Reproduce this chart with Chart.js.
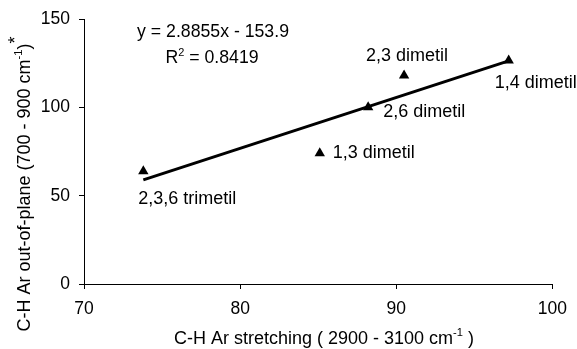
<!DOCTYPE html>
<html>
<head>
<meta charset="utf-8">
<script src="https://cdn.jsdelivr.net/npm/chart.js@4.4.0/dist/chart.umd.min.js"></script>
<style>
  html, body { margin: 0; padding: 0; background: #fff; }
  #wrap { width: 577px; height: 349px; }
</style>
</head>
<body>
<div id="wrap"><canvas id="chart"></canvas></div>
<script>
// values
var names = ['2,3,6 trimetil', '1,3 dimetil', '2,6 dimetil', '2,3 dimetil', '1,4 dimetil'];
var stretching = [73.8, 85.1, 88.2, 90.5, 97.2];
var outOfPlane = [64.0, 74.2, 100.3, 118.2, 126.7];
var xTicks = [70, 80, 90, 100];
var yTicks = [0, 50, 100, 150];
var slope = 2.8855;
var intercept = -153.9;
var rSquared = '0.8419';

var font = 'Liberation Sans, Arial, sans-serif';

// where each label sits relative to its marker (px)
var labelOffsets = [[-5, 28], [13, 0], [15, 5], [-38, -20], [-14, 22]];

var points = stretching.map(function(x, i) { return { x: x, y: outOfPlane[i] }; });
var xMin = Math.min.apply(null, stretching);
var xMax = Math.max.apply(null, stretching);
var trend = [
  { x: xMin, y: slope * xMin + intercept },
  { x: xMax, y: slope * xMax + intercept }
];

// draws a run of text pieces, some raised as superscript
function drawParts(ctx, parts, x, y, size, align) {
  var total = 0;
  parts.forEach(function(p) {
    p.s = p.sup ? size * (p.scale || 0.62) : size;
    ctx.font = p.s + 'px ' + font;
    p.w = ctx.measureText(p.t).width;
    total += p.w;
  });
  var cx = align === 'center' ? x - total / 2 : x;
  parts.forEach(function(p) {
    ctx.font = p.s + 'px ' + font;
    ctx.fillText(p.t, cx, p.sup ? y - size * (p.rise || 0.42) : y);
    cx += p.w;
  });
}

var textPlugin = {
  id: 'texts',
  afterDraw: function(chart) {
    var ctx = chart.ctx;
    var xs = chart.scales.x, ys = chart.scales.y;
    ctx.save();
    ctx.fillStyle = '#000';
    ctx.textAlign = 'left';

    // point labels
    ctx.font = '18px ' + font;
    ctx.textBaseline = 'middle';
    names.forEach(function(n, i) {
      var px = xs.getPixelForValue(stretching[i]);
      var py = ys.getPixelForValue(outOfPlane[i]);
      ctx.fillText(n, px + labelOffsets[i][0], py + labelOffsets[i][1]);
    });

    // regression equation
    ctx.textBaseline = 'alphabetic';
    drawParts(ctx, [{ t: 'y = ' + slope + 'x - ' + Math.abs(intercept) }], 213, 37, 17.7, 'center');
    drawParts(ctx, [{ t: 'R' }, { t: '2', sup: true }, { t: ' = ' + rSquared }], 212, 63, 17.7, 'center');

    // x axis title
    drawParts(ctx, [
      { t: 'C-H Ar stretching ( 2900 - 3100 cm' },
      { t: '-1', sup: true },
      { t: ' )' }
    ], 324, 344, 18, 'center');

    // y axis title
    ctx.translate(30, 184);
    ctx.rotate(-Math.PI / 2);
    drawParts(ctx, [
      { t: 'C-H Ar out-of-plane (700 - 900 cm' },
      { t: '-1', sup: true },
      { t: ')' },
      { t: '*', sup: true, scale: 1.0, rise: 0.5 }
    ], 0, 0, 18, 'center');
    ctx.restore();
  }
};

var ctx = document.getElementById('chart').getContext('2d');
var chart = new Chart(ctx, {
  type: 'scatter',
  data: {
    datasets: [
      {
        type: 'line',
        data: trend,
        borderColor: '#000',
        borderWidth: 3,
        pointRadius: 0,
        fill: false
      },
      {
        data: points,
        pointStyle: 'triangle',
        pointRadius: 6,
        backgroundColor: '#000',
        borderColor: '#000',
        borderWidth: 0
      }
    ]
  },
  options: {
    responsive: true,
    maintainAspectRatio: false,
    animation: false,
    layout: { padding: { left: 0, top: 19, right: 24, bottom: 0 } },
    plugins: {
      legend: { display: false },
      tooltip: { enabled: false }
    },
    scales: {
      x: {
        type: 'linear',
        min: 70,
        max: 100,
        afterBuildTicks: function(s) { s.ticks = xTicks.map(function(v) { return { value: v }; }); },
        afterFit: function(s) { s.height = 65; },
        grid: { drawOnChartArea: false, drawTicks: true, tickLength: 5, color: '#000' },
        border: { display: true, color: '#000', width: 1 },
        ticks: { color: '#000', padding: 10, maxRotation: 0, font: { family: font, size: 17.5 } }
      },
      y: {
        type: 'linear',
        min: 0,
        max: 150,
        afterBuildTicks: function(s) { s.ticks = yTicks.map(function(v) { return { value: v }; }); },
        afterFit: function(s) { s.width = 84; },
        grid: { drawOnChartArea: false, drawTicks: true, tickLength: 5, color: '#000' },
        border: { display: true, color: '#000', width: 1 },
        ticks: { color: '#000', padding: 9, font: { family: font, size: 17.5 } }
      }
    }
  },
  plugins: [textPlugin]
});
</script>
</body>
</html>
